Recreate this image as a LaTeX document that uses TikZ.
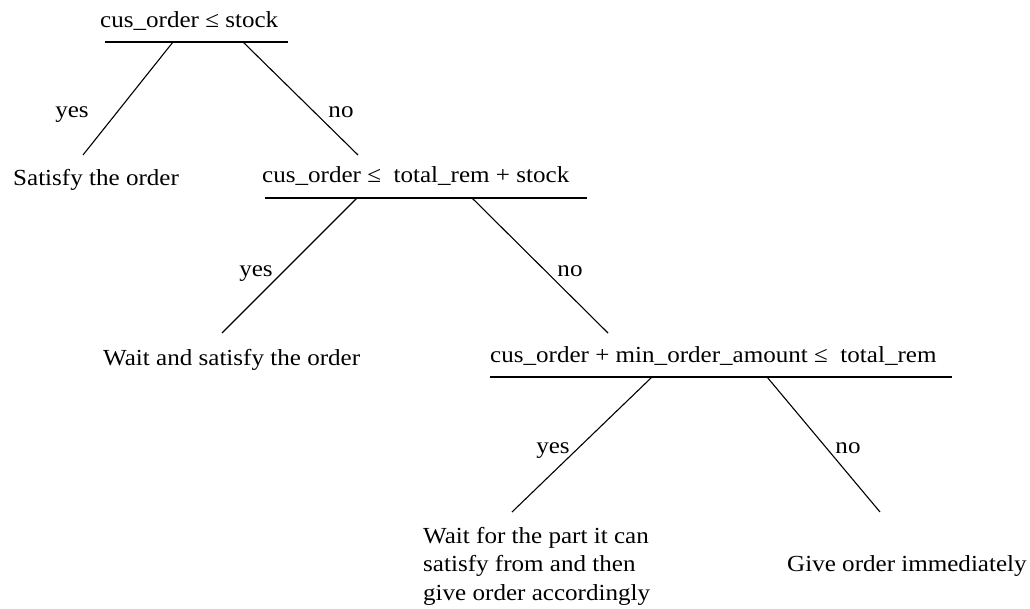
\documentclass[tikz,border=0pt]{standalone}
\usepackage{fontspec}
\setmainfont{Liberation Serif}[FakeStretch=1.09]
\begin{document}
\begin{tikzpicture}[x=1pt,y=-1pt,
  txt/.style={inner sep=0pt,anchor=base west,font=\fontsize{23}{28.5}\selectfont},
  lab/.style={inner sep=0pt,anchor=base,font=\fontsize{23}{28.5}\selectfont},
  rule/.style={line width=1.2pt},
  branch/.style={line width=1.1pt}]
\useasboundingbox (0,0) rectangle (1030,609);
% node 1
\node[txt] (c1) at (100,28) {cus\_order ≤ stock};
\coordinate (u1l) at (105,42); \coordinate (u1r) at (288,42);
\draw[rule] (u1l) -- (u1r);
\coordinate (b1y) at (173,42); \coordinate (b1n) at (243,42);
\coordinate (e1y) at (83,155); \coordinate (e1n) at (358,155);
\draw[branch] (b1y) -- (e1y);
\draw[branch] (b1n) -- (e1n);
\node[lab] (y1) at (72,118) {yes};
\node[lab] (n1) at (341,118) {no};
\node[txt] (leaf1) at (13,186) {Satisfy the order};
% node 2
\node[txt] (c2) at (262,183) {cus\_order ≤\ \ total\_rem + stock};
\coordinate (u2l) at (265,198); \coordinate (u2r) at (587,198);
\draw[rule] (u2l) -- (u2r);
\coordinate (b2y) at (357,198); \coordinate (b2n) at (472,198);
\coordinate (e2y) at (222,333); \coordinate (e2n) at (608,333);
\draw[branch] (b2y) -- (e2y);
\draw[branch] (b2n) -- (e2n);
\node[lab] (y2) at (256,277) {yes};
\node[lab] (n2) at (570,277) {no};
\node[txt] (leaf2) at (103,365) {Wait and satisfy the order};
% node 3
\node[txt] (c3) at (490,362) {cus\_order + min\_order\_amount ≤\ \ total\_rem};
\coordinate (u3l) at (490,377); \coordinate (u3r) at (952,377);
\draw[rule] (u3l) -- (u3r);
\coordinate (b3y) at (652,377); \coordinate (b3n) at (767,377);
\coordinate (e3y) at (512,512); \coordinate (e3n) at (880,512);
\draw[branch] (b3y) -- (e3y);
\draw[branch] (b3n) -- (e3n);
\node[lab] (y3) at (553,453) {yes};
\node[lab] (n3) at (848,453) {no};
\node[txt] (leaf3) at (423,543) {\begin{tabular}[t]{@{}l@{}}Wait for the part it can\\satisfy from and then\\give order accordingly\end{tabular}};
\node[txt] (leaf4) at (787,571) {Give order immediately};
\end{tikzpicture}
\end{document}
